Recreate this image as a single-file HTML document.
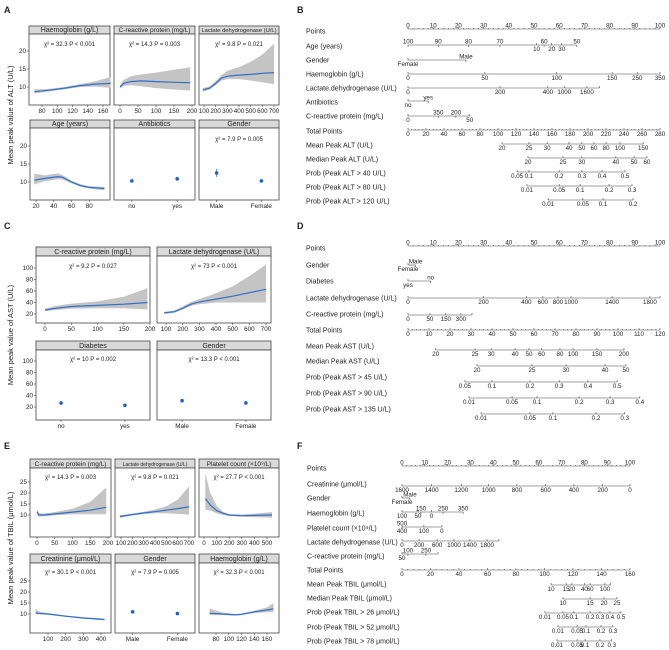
<!DOCTYPE html>
<html><head><meta charset="utf-8"><style>
html,body{margin:0;padding:0;background:#fff;}
svg{display:block;font-family:"Liberation Sans",sans-serif;}
</style></head><body>
<svg id="fig" width="669" height="650" viewBox="0 0 669 650" xmlns="http://www.w3.org/2000/svg"></svg>
<script>
// ---------- Panel A data ----------
const aHbX=[70,90,110,130,150,170], aHbY=[8.7,9.1,9.7,10.4,10.8,11.0], aHbLo=[8.2,8.8,9.4,10.0,10.1,9.8], aHbHi=[9.3,9.5,10.0,10.8,11.6,12.8];
const aCrpX=[0,10,30,60,100,150,195], aCrpY=[10,11,11.5,11.7,11.5,11.3,11.2], aCrpLo=[9.6,10.3,10.5,10.2,9.7,9.3,9.0], aCrpHi=[10.5,12,13,13.5,14,14.8,15.5];
const aLdhX=[90,150,200,250,300,400,500,600,700], aLdhY=[9.2,9.7,11,12.5,13,13.3,13.5,13.8,14], aLdhLo=[8.7,9.3,10.5,11.8,12.2,12.2,11.8,11.3,10.8], aLdhHi=[9.7,10.2,11.6,13.3,14.5,15.5,17,19,22];
const aAgeX=[18,30,45,50,60,70,80,97], aAgeY=[10.5,11,11.5,11.3,10,9,8.5,8.2], aAgeLo=[9.3,10.2,10.8,10.7,9.6,8.7,8.2,7.7], aAgeHi=[12.3,11.9,12.4,11.9,10.4,9.4,8.8,8.6];
const aAbCats=["no","yes"], aAbVals=[10.3,10.9], aAbErr=[0.4,0.6];
const aSexCats=["Male","Female"], aSexVals=[12.5,10.3], aSexErr=[1.1,0.4];
// ---------- Panel C data ----------
const cCrpX=[0,20,50,100,150,195], cCrpY=[27,30,33,35,37,40], cCrpLo=[25,27,29,30,30,28], cCrpHi=[29,34,38,42,50,65];
const cLdhX=[90,150,200,250,300,400,500,600,700], cLdhY=[22,24,30,37,41,46,51,57,63], cLdhLo=[20,22,28,34,37,40,40,40,40], cLdhHi=[24,26,33,41,46,56,68,86,106];
const cDmCats=["no","yes"], cDmVals=[27,23], cDmErr=[2,2];
const cSexCats=["Male","Female"], cSexVals=[31,27], cSexErr=[2,2];
// ---------- Panel E data ----------
const eCrpX=[0,5,20,50,100,150,195], eCrpY=[11.5,10,10,10.5,11.3,12.2,13.5], eCrpLo=[10.2,9.3,9.4,9.8,10.3,10.3,10.3], eCrpHi=[12.5,10.8,10.7,11.3,12.8,16,22.5];
const eLdhX=[90,200,300,400,500,600,700], eLdhY=[9.3,10.2,10.9,11.5,12.2,12.9,13.7], eLdhLo=[8.7,9.8,10.4,10.8,10.8,10.5,10.2], eLdhHi=[9.9,10.7,11.5,12.5,14,17,23];
const ePltX=[10,50,100,150,200,300,400,540], ePltY=[17.5,14.5,12,10.8,10,9.7,9.8,10], ePltLo=[12.5,12,10.8,10,9.5,9.2,9,8.8], ePltHi=[29,20,14.2,11.5,10.4,10.2,10.6,11.3];
const eCrX=[30,50,100,200,300,420], eCrY=[10.5,10.3,10,9,8.2,7.5], eCrLo=[9.8,9.8,9.7,8.7,7.9,7.1], eCrHi=[12.3,11,10.4,9.3,8.5,7.9];
const eSexCats=["Male","Female"], eSexVals=[11,10.2], eSexErr=[0.4,0.3];
const eHbX=[70,90,110,120,140,160,170], eHbY=[10.3,10,9.6,9.8,11,11.8,12.3], eHbLo=[9.5,9.5,9.3,9.6,10.4,10.8,10.8], eHbHi=[12.5,10.7,10,10.2,11.5,13,15];
// ---------- Nomogram B (points units 0-100) ----------
const bAgePts=[0,12,24,36.5,54,67,51,57,61], bAgeLab=["100","90","80","70","60","50","10","20","30"], bAgeSide="aaaaaabbb";
const bSexPts=[0,23], bSexLab=["Female","Male"], bSexSide="ba";
const bHbPts=[0,30.5,59,81,91,100], bHbLab=["0","50","100","150","250","350"];
const bLdhPts=[0,36.5,55.5,62,71,76], bLdhLab=["0","200","400","1000","1600",""];
const bAbPts=[0,8], bAbLab=["no","yes"], bAbSide="ba";
const bCrpPts=[0,12,19,24.5], bCrpLab=["0","350","200","50"], bCrpSide="baab";
const bMeanPts=[37.3,48,55.2,63.9,69,73.8,78.6,84.1,93.3], bMeanLab=["20","25","30","40","50","60","80","100","150"];
const bMedPts=[47.6,61.5,69,82.5,89.7,94.8], bMedLab=["20","25","30","40","50","60"];
const bP40Pts=[43.3,48,60,69,77,86.1], bP40Lab=["0.05","0.1","0.2","0.3","0.4","0.5"];
const bP80Pts=[47.2,60,68.3,79.8,88.9], bP80Lab=["0.01","0.05","0.1","0.2","0.3"];
const bP120Pts=[55.6,69.4,77.4,89.3], bP120Lab=["0.01","0.05","0.1","0.2"];
// ---------- Nomogram D ----------
const dSexPts=[0,3], dSexLab=["Female","Male"], dSexSide="ba";
const dDmPts=[0,9], dDmLab=["yes","no"], dDmSide="ba";
const dLdhPts=[0,30,47,53.5,59.5,64.7,81,96,100], dLdhLab=["0","200","400","600","800","1000","1400","1800",""];
const dCrpPts=[0,8.7,15,21,25.4], dCrpLab=["0","50","150","300",""];
const dMeanPts=[11,26.6,33,42.5,48,53,60.3,65.5,75,85.7], dMeanLab=["20","25","30","40","50","60","80","100","150","200"];
const dMedPts=[27.4,49.2,62.7,78.2,86.5], dMedLab=["20","25","30","40","50"];
const dP45Pts=[22.6,33.3,48.4,60,71.4,83], dP45Lab=["0.05","0.1","0.2","0.3","0.4","0.5"];
const dP90Pts=[24.2,41.3,51.2,67.9,80.2,92], dP90Lab=["0.01","0.05","0.1","0.2","0.3","0.4"];
const dP135Pts=[29,48.4,57.5,74.6,86], dP135Lab=["0.01","0.05","0.1","0.2","0.3"];
// ---------- Nomogram F ----------
const fCrPts=[0,13,26,38,50.4,63,75.4,88,100], fCrLab=["1600","1400","1200","1000","800","600","400","200","0"];
const fSexPts=[0,3.5], fSexLab=["Female","Male"], fSexSide="ba";
const fHbPts=[0,7,13,8.3,18,26.8], fHbLab=["100","50","0","150","250","350"], fHbSide="bbbaaa";
const fPltPts=[0,0,9.6,17.5], fPltLab=["500","400","100","0"], fPltSide="abbb";
const fLdhPts=[0,7.5,15.4,22.8,29.8,37.3,42.5], fLdhLab=["0","200","600","1000","1400","1800",""];
const fCrpPts=[0,2.6,10.5,15.8], fCrpLab=["50","100","250",""], fCrpSide="baab";
const fMeanPts=[65.4,72,74.5,80,82.5,89,91.5], fMeanLab=["10","15","20","40","60","100",""];
const fMedPts=[70.6,82.5,88.6,94.3], fMedLab=["10","15","20","25"];
const fP26Pts=[62.7,70.6,75.4,82.5,86.8,91.2,96], fP26Lab=["0.01","0.05","0.1","0.2","0.3","0.4","0.5"];
const fP52Pts=[68.4,76.8,80.7,87.3,92.5], fP52Lab=["0.01","0.05","0.1","0.2","0.3"];
const fP78Pts=[68,76.8,80.3,86.8,92], fP78Lab=["0.01","0.05","0.1","0.2","0.3"];

const svg=document.getElementById('fig');
const NS="http://www.w3.org/2000/svg";
function mk(tag,at,parent){const e=document.createElementNS(NS,tag);for(const k in at)e.setAttribute(k,at[k]);(parent||svg).appendChild(e);return e;}
function txt(x,y,s,size,anchor,parent,weight){const t=mk('text',{x:x,y:y,'font-size':size,'text-anchor':anchor||'start',fill:'#222','font-weight':weight||'normal'},parent);t.textContent=s;return t;}
function lin(v0,p0,v1,p1){return v=>p0+(v-v0)*(p1-p0)/(v1-v0);}
function slug(s){return s.toLowerCase().replace(/[^a-z0-9]+/g,'-').replace(/^-|-$/g,'');}

function panel(o){
  const g=mk('g',{});
  
  
  const sy=lin(o.yv0,o.yp0,o.yv1,o.yp1);
  const strip=mk('rect',{x:o.x0,y:o.st,width:o.x1-o.x0,height:o.pt-o.st,fill:'#d9d9d9',stroke:'#444','stroke-width':0.8},g);
  
  
  const st=txt((o.x0+o.x1)/2,o.pt-2,o.title,o.tsize||7,'middle',g);
  
  
  const box=mk('rect',{x:o.x0,y:o.pt,width:o.x1-o.x0,height:o.pb-o.pt,fill:'#fff',stroke:'#444','stroke-width':0.8},g);
  
  
  if(o.cx){
    const sx=lin(o.xv0,o.xp0,o.xv1,o.xp1);
    let d='';
    o.cx.forEach((v,i)=>{d+=(i?'L':'M')+sx(v).toFixed(1)+','+sy(o.hi[i]).toFixed(1);});
    for(let i=o.cx.length-1;i>=0;i--)d+='L'+sx(o.cx[i]).toFixed(1)+','+sy(o.lo[i]).toFixed(1);
    const band=mk('path',{d:d+'Z',fill:'#c4c4c4',stroke:'none'},g);
    
    
    let dl='';
    o.cx.forEach((v,i)=>{dl+=(i?'L':'M')+sx(v).toFixed(1)+','+sy(o.cy[i]).toFixed(1);});
    const ln=mk('path',{d:dl,fill:'none',stroke:'#2f6fc8','stroke-width':1.2},g);
    
    
    o.xt.forEach(v=>{
      mk('line',{x1:sx(v),x2:sx(v),y1:o.pb,y2:o.pb+2,stroke:'#444','stroke-width':0.6},g);
      const t=txt(sx(v),o.pb+8,String(v),6.3,'middle',g);
      
      
    });
  } else {
    const w=o.x1-o.x0;
    o.cats.forEach((c,i)=>{
      const px=o.x0+w*(0.22+0.56*i);
      mk('line',{x1:px,x2:px,y1:sy(o.vals[i]-o.err[i]),y2:sy(o.vals[i]+o.err[i]),stroke:'#5fa0e8','stroke-width':1.2},g);
      const p=mk('circle',{cx:px,cy:sy(o.vals[i]),r:1.8,fill:'#1f5fbf'},g);
      
      
      mk('line',{x1:px,x2:px,y1:o.pb,y2:o.pb+2,stroke:'#444','stroke-width':0.6},g);
      const t=txt(px,o.pb+8,c,6.3,'middle',g);
      
      
    });
  }
  if(o.yt){
    o.yt.forEach(v=>{
      mk('line',{x1:o.x0-2,x2:o.x0,y1:sy(v),y2:sy(v),stroke:'#444','stroke-width':0.6},g);
      const t=txt(o.x0-3,sy(v)+2,String(v),6.3,'end',g);
      
      
    });
  }
  if(o.ann){
    const a=txt((o.x0+o.x1)/2,o.ay,o.ann,6,'middle',g);
    
    
  }
}

// ---- Panel A ----
panel({title:'Haemoglobin (g/L)',x0:29,x1:110,st:26,pt:34,pb:105,yv0:10,yp0:87,yv1:20,yp1:51,xv0:80,xp0:42,xv1:160,xp1:103,cx:aHbX,cy:aHbY,lo:aHbLo,hi:aHbHi,xt:[80,100,120,140,160],yt:[10,15,20],ann:'χ² = 32.3  P < 0.001',ay:46});
panel({title:'C-reactive protein (mg/L)',x0:114,x1:195,st:26,pt:34,pb:105,tsize:6.5,yv0:10,yp0:87,yv1:20,yp1:51,xv0:0,xp0:120,xv1:200,xp1:192,cx:aCrpX,cy:aCrpY,lo:aCrpLo,hi:aCrpHi,xt:[0,50,100,150,200],ann:'χ² = 14.3  P = 0.003',ay:46});
panel({title:'Lactate dehydrogenase (U/L)',x0:199,x1:279,st:26,pt:34,pb:105,tsize:5.8,yv0:10,yp0:87,yv1:20,yp1:51,xv0:100,xp0:204,xv1:700,xp1:274,cx:aLdhX,cy:aLdhY,lo:aLdhLo,hi:aLdhHi,xt:[100,200,300,400,500,600,700],ann:'χ² = 9.8  P = 0.021',ay:46});
panel({title:'Age (years)',x0:30,x1:110,st:120,pt:128,pb:200,yv0:10,yp0:182,yv1:20,yp1:146,xv0:20,xp0:36,xv1:80,xp1:89.3,cx:aAgeX,cy:aAgeY,lo:aAgeLo,hi:aAgeHi,xt:[20,40,60,80],yt:[10,15,20]});
panel({title:'Antibiotics',x0:114,x1:195,st:120,pt:128,pb:200,yv0:10,yp0:182,yv1:20,yp1:146,cats:aAbCats,vals:aAbVals,err:aAbErr});
panel({title:'Gender',x0:199,x1:279,st:120,pt:128,pb:200,yv0:10,yp0:182,yv1:20,yp1:146,cats:aSexCats,vals:aSexVals,err:aSexErr,ann:'χ² = 7.9  P = 0.005',ay:141});
// ---- Panel C ----
panel({title:'C-reactive protein (mg/L)',x0:36,x1:150,st:247,pt:256,pb:323,yv0:20,yp0:314,yv1:100,yp1:268,xv0:0,xp0:45,xv1:200,xp1:150,cx:cCrpX,cy:cCrpY,lo:cCrpLo,hi:cCrpHi,xt:[0,50,100,150,200],yt:[20,40,60,80,100],ann:'χ² = 9.2  P = 0.027',ay:268});
panel({title:'Lactate dehydrogenase (U/L)',x0:157,x1:271,st:247,pt:256,pb:323,yv0:20,yp0:314,yv1:100,yp1:268,xv0:100,xp0:166,xv1:700,xp1:266,cx:cLdhX,cy:cLdhY,lo:cLdhLo,hi:cLdhHi,xt:[100,200,300,400,500,600,700],ann:'χ² = 73  P < 0.001',ay:268});
panel({title:'Diabetes',x0:36,x1:150,st:341,pt:350,pb:420,yv0:20,yp0:407,yv1:100,yp1:361,cats:cDmCats,vals:cDmVals,err:cDmErr,yt:[20,40,60,80,100],ann:'χ² = 10  P = 0.002',ay:361});
panel({title:'Gender',x0:157,x1:271,st:341,pt:350,pb:420,yv0:20,yp0:407,yv1:100,yp1:361,cats:cSexCats,vals:cSexVals,err:cSexErr,ann:'χ² = 13.3  P < 0.001',ay:361});
// ---- Panel E ----
panel({title:'C-reactive protein (mg/L)',x0:30,x1:111,st:459,pt:468,pb:537,tsize:6.5,yv0:10,yp0:515,yv1:25,yp1:482,xv0:0,xp0:37,xv1:200,xp1:108,cx:eCrpX,cy:eCrpY,lo:eCrpLo,hi:eCrpHi,xt:[0,50,100,150,200],yt:[10,15,20,25],ann:'χ² = 14.3  P = 0.003',ay:479});
panel({title:'Lactate dehydrogenase (U/L)',x0:115,x1:195,st:459,pt:468,pb:537,tsize:5,yv0:10,yp0:515,yv1:25,yp1:482,xv0:100,xp0:121,xv1:700,xp1:189,cx:eLdhX,cy:eLdhY,lo:eLdhLo,hi:eLdhHi,xt:[100,200,300,400,500,600,700],ann:'χ² = 9.8  P = 0.021',ay:479});
panel({title:'Platelet count (×10⁹/L)',x0:199,x1:279,st:459,pt:468,pb:537,tsize:6.5,yv0:10,yp0:515,yv1:25,yp1:482,xv0:0,xp0:204,xv1:500,xp1:267,cx:ePltX,cy:ePltY,lo:ePltLo,hi:ePltHi,xt:[0,100,200,300,400,500],ann:'χ² = 27.7  P < 0.001',ay:479});
panel({title:'Creatinine (μmol/L)',x0:30,x1:111,st:554,pt:563,pb:633,yv0:10,yp0:614,yv1:25,yp1:581,xv0:100,xp0:48,xv1:400,xp1:101,cx:eCrX,cy:eCrY,lo:eCrLo,hi:eCrHi,xt:[100,200,300,400],yt:[10,15,20,25],ann:'χ² = 30.1  P < 0.001',ay:574});
panel({title:'Gender',x0:115,x1:195,st:554,pt:563,pb:633,yv0:10,yp0:614,yv1:25,yp1:581,cats:eSexCats,vals:eSexVals,err:eSexErr,ann:'χ² = 7.9  P = 0.005',ay:574});
panel({title:'Haemoglobin (g/L)',x0:199,x1:279,st:554,pt:563,pb:633,yv0:10,yp0:614,yv1:25,yp1:581,xv0:80,xp0:216,xv1:160,xp1:267,cx:eHbX,cy:eHbY,lo:eHbLo,hi:eHbHi,xt:[80,100,120,140,160],ann:'χ² = 32.3  P < 0.001',ay:574});

// axis titles & panel letters
[['Mean peak value of ALT (U/L)',115],['Mean peak value of AST (U/L)',335],['Mean peak value of TBIL (μmol/L)',548]].forEach(a=>{
  const t=txt(0,0,a[0],7.5,'middle');
  t.setAttribute('transform','translate(13,'+a[1]+') rotate(-90)');
  
  
});
[['A',4,13],['B',297,13],['C',4,229],['D',297,229],['E',4,449],['F',297,449]].forEach(l=>{
  const t=txt(l[1],l[2],l[0],9,'start',null,'bold');
  
  
});

// ---------- Nomogram ----------
function nomo(labX,p0,p1,rows){
  const sx=lin(0,p0,100,p1);
  rows.forEach(r=>{
    const g=mk('g',{});
    
    
    const lt=txt(labX,r.y+2.5,r.label,7,'start',g);
    
    
    if(r.scale){
      const xs=lin(0,p0,r.max,p1);
      mk('line',{x1:p0,x2:p1,y1:r.ly,y2:r.ly,stroke:'#444','stroke-width':0.6},g);
      for(let v=0;v<=r.max;v+=r.minor){
        const major=Math.abs(v/r.step-Math.round(v/r.step))<1e-6;
        mk('line',{x1:xs(v),x2:xs(v),y1:r.ly,y2:r.ly+(r.top?-(major?2:1):(major?-2:-1)),stroke:'#444','stroke-width':0.6},g);
        if(major){
          const t=txt(xs(v),r.top?r.ly-1.5:r.ly+6,String(v),6.2,'middle',g);
          
          
        }
      }
      return;
    }
    const xs=r.pts.map(sx);
    mk('line',{x1:Math.min(...xs),x2:Math.max(...xs),y1:r.ly,y2:r.ly,stroke:'#444','stroke-width':0.6},g);
    r.pts.forEach((p,i)=>{
      const side=r.side?r.side[i]:'b';
      mk('line',{x1:sx(p),x2:sx(p),y1:r.ly,y2:side==='a'?r.ly+2:r.ly-2,stroke:'#444','stroke-width':0.6},g);
      if(r.labs[i]){
        const t=txt(sx(p),side==='a'?r.ly-1.5:r.ly+6,r.labs[i],6.2,'middle',g);
        
        
      }
    });
  });
}
nomo(306,408,660,[
 {label:'Points',y:31,ly:29,scale:1,max:100,step:10,minor:2,top:1},
 {label:'Age (years)',y:46,ly:45,pts:bAgePts,labs:bAgeLab,side:bAgeSide},
 {label:'Gender',y:60,ly:60,pts:bSexPts,labs:bSexLab,side:bSexSide},
 {label:'Haemoglobin (g/L)',y:74,ly:74,pts:bHbPts,labs:bHbLab},
 {label:'Lactate.dehydrogenase (U/L)',y:88,ly:88,pts:bLdhPts,labs:bLdhLab},
 {label:'Antibiotics',y:102,ly:101,pts:bAbPts,labs:bAbLab,side:bAbSide},
 {label:'C-reactive protein (mg/L)',y:116,ly:116,pts:bCrpPts,labs:bCrpLab,side:bCrpSide},
 {label:'Total Points',y:131,ly:130,scale:1,max:280,step:20,minor:4},
 {label:'Mean Peak ALT (U/L)',y:145,ly:144,pts:bMeanPts,labs:bMeanLab},
 {label:'Median Peak ALT (U/L)',y:159,ly:158,pts:bMedPts,labs:bMedLab},
 {label:' Prob (Peak ALT > 40 U/L)',y:173,ly:172,pts:bP40Pts,labs:bP40Lab},
 {label:' Prob (Peak ALT > 80 U/L)',y:187,ly:186,pts:bP80Pts,labs:bP80Lab},
 {label:' Prob (Peak ALT > 120 U/L)',y:201,ly:200,pts:bP120Pts,labs:bP120Lab}
]);
nomo(306,408,660,[
 {label:'Points',y:248,ly:246,scale:1,max:100,step:10,minor:2,top:1},
 {label:'Gender',y:265,ly:265,pts:dSexPts,labs:dSexLab,side:dSexSide},
 {label:'Diabetes',y:281,ly:281,pts:dDmPts,labs:dDmLab,side:dDmSide},
 {label:'Lactate dehydrogenase (U/L)',y:298,ly:298,pts:dLdhPts,labs:dLdhLab},
 {label:'C-reactive protein (mg/L)',y:314,ly:315,pts:dCrpPts,labs:dCrpLab},
 {label:'Total Points',y:330,ly:330,scale:1,max:120,step:10,minor:2},
 {label:'Mean Peak AST (U/L)',y:346,ly:350,pts:dMeanPts,labs:dMeanLab},
 {label:'Median Peak AST (U/L)',y:361,ly:366,pts:dMedPts,labs:dMedLab},
 {label:' Prob (Peak AST > 45 U/L)',y:377,ly:382,pts:dP45Pts,labs:dP45Lab},
 {label:' Prob (Peak AST > 90 U/L)',y:393,ly:398,pts:dP90Pts,labs:dP90Lab},
 {label:' Prob (Peak AST > 135 U/L)',y:409,ly:414,pts:dP135Pts,labs:dP135Lab}
]);
nomo(307,402,630,[
 {label:'Points',y:468,ly:466,scale:1,max:100,step:10,minor:2,top:1},
 {label:'Creatinine (μmol/L)',y:484,ly:486,pts:fCrPts,labs:fCrLab},
 {label:'Gender',y:498,ly:498,pts:fSexPts,labs:fSexLab,side:fSexSide},
 {label:'Haemoglobin (g/L)',y:513,ly:512,pts:fHbPts,labs:fHbLab,side:fHbSide},
 {label:'Platelet count (×10⁹/L)',y:528,ly:527,pts:fPltPts,labs:fPltLab,side:fPltSide},
 {label:'Lactate dehydrogenase (U/L)',y:542,ly:541,pts:fLdhPts,labs:fLdhLab},
 {label:'C-reactive protein (mg/L)',y:556,ly:554,pts:fCrpPts,labs:fCrpLab,side:fCrpSide},
 {label:'Total Points',y:570,ly:570,scale:1,max:160,step:20,minor:4},
 {label:'Mean Peak TBIL (μmol/L)',y:584,ly:585,pts:fMeanPts,labs:fMeanLab},
 {label:'Median Peak TBIL (μmol/L)',y:598,ly:599,pts:fMedPts,labs:fMedLab},
 {label:' Prob (Peak TBIL > 26 μmol/L)',y:612,ly:613,pts:fP26Pts,labs:fP26Lab},
 {label:' Prob (Peak TBIL > 52 μmol/L)',y:627,ly:627,pts:fP52Pts,labs:fP52Lab},
 {label:' Prob (Peak TBIL > 78 μmol/L)',y:641,ly:641,pts:fP78Pts,labs:fP78Lab}
]);
</script>
</body></html>
